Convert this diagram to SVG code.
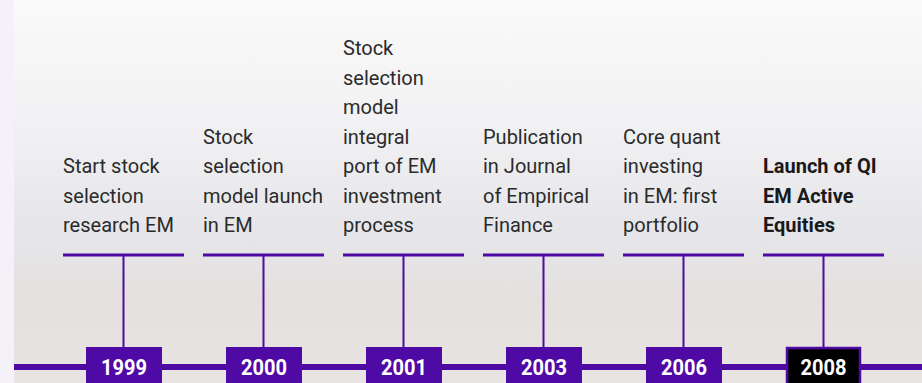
<svg xmlns="http://www.w3.org/2000/svg" width="922" height="383" viewBox="0 0 922 383">
<defs>
<linearGradient id="bg" x1="0" y1="0" x2="0" y2="1">
<stop offset="0" stop-color="#fafafa"/>
<stop offset="0.3" stop-color="#f2f2f4"/>
<stop offset="0.6" stop-color="#e6e6ea"/>
<stop offset="0.78" stop-color="#e4e0de"/>
<stop offset="1" stop-color="#e8e4e1"/>
</linearGradient>
<style>
.lbl{font-family:Roboto,"Liberation Sans",sans-serif;font-size:20px;fill:#2b2b2b}
.bold{font-weight:bold;fill:#1a1a1a}
.bar{fill:#4f0aa6}
.yr{font-family:Roboto,"Liberation Sans",sans-serif;font-size:22px;font-weight:bold;fill:#ffffff;text-anchor:middle}
.box{fill:#4f0aa6}
.boxk{fill:#000000;stroke:#4f0aa6;stroke-width:2.5}
</style>
</defs>
<rect x="0" y="0" width="922" height="383" fill="#f4f1f9"/>
<rect x="14" y="0" width="908" height="383" fill="url(#bg)"/>

<g id="connectors">
<rect class="bar" x="14" y="364" width="908" height="6"/>
</g>

<g id="n1999">
<rect class="bar" x="63" y="253.5" width="121" height="3"/>
<rect class="bar" x="122.5" y="255" width="2" height="93"/>
<rect class="box" x="86" y="347" width="76" height="40"/>
<text class="yr" x="124" y="375" textLength="46" lengthAdjust="spacingAndGlyphs">1999</text>
<text class="lbl" x="63"><tspan x="63" y="173">Start stock</tspan><tspan x="63" y="202.5">selection</tspan><tspan x="63" y="232">research EM</tspan></text>
</g>

<g id="n2000">
<rect class="bar" x="203" y="253.5" width="121" height="3"/>
<rect class="bar" x="262.5" y="255" width="2" height="93"/>
<rect class="box" x="226" y="347" width="76" height="40"/>
<text class="yr" x="264" y="375" textLength="46" lengthAdjust="spacingAndGlyphs">2000</text>
<text class="lbl" x="203"><tspan x="203" y="143.5">Stock</tspan><tspan x="203" y="173">selection</tspan><tspan x="203" y="202.5">model launch</tspan><tspan x="203" y="232">in EM</tspan></text>
</g>

<g id="n2001">
<rect class="bar" x="343" y="253.5" width="121" height="3"/>
<rect class="bar" x="402.5" y="255" width="2" height="93"/>
<rect class="box" x="366" y="347" width="76" height="40"/>
<text class="yr" x="404" y="375" textLength="46" lengthAdjust="spacingAndGlyphs">2001</text>
<text class="lbl" x="343"><tspan x="343" y="55">Stock</tspan><tspan x="343" y="84.5">selection</tspan><tspan x="343" y="114">model</tspan><tspan x="343" y="143.5">integral</tspan><tspan x="343" y="173">port of EM</tspan><tspan x="343" y="202.5">investment</tspan><tspan x="343" y="232">process</tspan></text>
</g>

<g id="n2003">
<rect class="bar" x="483" y="253.5" width="121" height="3"/>
<rect class="bar" x="542.5" y="255" width="2" height="93"/>
<rect class="box" x="506" y="347" width="76" height="40"/>
<text class="yr" x="544" y="375" textLength="46" lengthAdjust="spacingAndGlyphs">2003</text>
<text class="lbl" x="483"><tspan x="483" y="143.5">Publication</tspan><tspan x="483" y="173">in Journal</tspan><tspan x="483" y="202.5">of Empirical</tspan><tspan x="483" y="232">Finance</tspan></text>
</g>

<g id="n2006">
<rect class="bar" x="623" y="253.5" width="121" height="3"/>
<rect class="bar" x="682.5" y="255" width="2" height="93"/>
<rect class="box" x="646" y="347" width="76" height="40"/>
<text class="yr" x="684" y="375" textLength="46" lengthAdjust="spacingAndGlyphs">2006</text>
<text class="lbl" x="623"><tspan x="623" y="143.5">Core quant</tspan><tspan x="623" y="173">investing</tspan><tspan x="623" y="202.5">in EM: first</tspan><tspan x="623" y="232">portfolio</tspan></text>
</g>

<g id="n2008">
<rect class="bar" x="763" y="253.5" width="121" height="3"/>
<rect class="bar" x="822.5" y="255" width="2" height="93"/>
<rect class="boxk" x="787" y="348" width="73" height="40"/>
<text class="yr" x="823.5" y="375" textLength="46" lengthAdjust="spacingAndGlyphs">2008</text>
<text class="lbl bold" x="763"><tspan x="763" y="173">Launch of QI</tspan><tspan x="763" y="202.5">EM Active</tspan><tspan x="763" y="232">Equities</tspan></text>
</g>
</svg>
